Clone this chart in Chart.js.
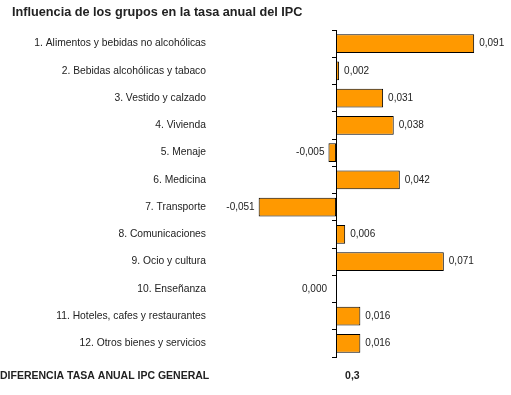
<!DOCTYPE html>
<html>
<head>
<meta charset="utf-8">
<script src="https://cdn.jsdelivr.net/npm/chart.js@4"></script>
<style>
  body { margin: 0; background: #fff; }
  #wrap { width: 511px; height: 395px; position: relative; }
</style>
</head>
<body>
<div id="wrap"><canvas id="ipcChart"></canvas></div>
<script>
const groups = [
  "1. Alimentos y bebidas no alcohólicas",
  "2. Bebidas alcohólicas y tabaco",
  "3. Vestido y calzado",
  "4. Vivienda",
  "5. Menaje",
  "6. Medicina",
  "7. Transporte",
  "8. Comunicaciones",
  "9. Ocio y cultura",
  "10. Enseñanza",
  "11. Hoteles, cafes y restaurantes",
  "12. Otros bienes y servicios",
];
const influence = [0.091, 0.002, 0.031, 0.038, -0.005, 0.042, -0.051, 0.006, 0.071, 0.0, 0.016, 0.016];
const title = "Influencia de los grupos en la tasa anual del IPC";
const totalLabel = "DIFERENCIA TASA ANUAL IPC GENERAL";
const totalValue = "0,3";

const fontFamily = "'Liberation Sans', Arial, sans-serif";

function fmt(v) {
  return v.toFixed(3).replace(".", ",");
}

// title, value labels and the total line under the chart
const extras = {
  id: "extras",
  afterDraw(chart) {
    const ctx = chart.ctx;
    const x = chart.scales.x;
    const zero = x.getPixelForValue(0);
    ctx.save();

    ctx.fillStyle = "#222";
    ctx.font = "bold 12.7px " + fontFamily;
    ctx.textBaseline = "middle";
    ctx.textAlign = "left";
    ctx.fillText(title, 12, 12);

    ctx.font = "10px " + fontFamily;
    const bars = chart.getDatasetMeta(0).data;
    bars.forEach((bar, i) => {
      const v = influence[i];
      if (v > 0) {
        ctx.textAlign = "left";
        ctx.fillText(fmt(v), bar.x + 5, bar.y);
      } else if (v < 0) {
        ctx.textAlign = "right";
        ctx.fillText(fmt(v), bar.x - 4, bar.y);
      } else {
        ctx.textAlign = "right";
        ctx.fillText(fmt(v), zero - 9, bar.y);
      }
    });

    ctx.font = "bold 10.5px " + fontFamily;
    ctx.textAlign = "left";
    ctx.fillText(totalLabel, 0, 376);
    ctx.fillText(totalValue, zero + 9, 376);
    ctx.restore();
  },
};

new Chart(document.getElementById("ipcChart"), {
  type: "bar",
  data: {
    labels: groups,
    datasets: [
      {
        data: influence,
        backgroundColor: "#FF9900",
        borderColor: "#000",
        borderWidth: 1,
        borderSkipped: false,
        categoryPercentage: 1,
        barPercentage: 0.68,
      },
    ],
  },
  options: {
    indexAxis: "y",
    responsive: true,
    maintainAspectRatio: false,
    animation: false,
    layout: { padding: { top: 30, right: 8, bottom: 38, left: 0 } },
    plugins: {
      legend: { display: false },
      tooltip: { enabled: false },
    },
    scales: {
      x: {
        display: false,
        min: -0.06,
        max: 0.11,
      },
      y: {
        afterFit: (s) => {
          s.width = 245;
          s.paddingTop = 0;
          s.paddingBottom = 0;
        },
        grid: { display: false, drawTicks: false },
        border: { display: false },
        ticks: {
          padding: 39,
          color: "#222",
          font: { family: fontFamily, size: 10.3 },
        },
      },
      y2: {
        type: "category",
        position: { x: 0 },
        grid: {
          offset: true,
          drawOnChartArea: false,
          drawTicks: true,
          tickLength: 4,
          color: "#000",
        },
        border: { display: true, color: "#000", width: 1 },
        ticks: { display: false },
      },
    },
  },
  plugins: [extras],
});
</script>
</body>
</html>
